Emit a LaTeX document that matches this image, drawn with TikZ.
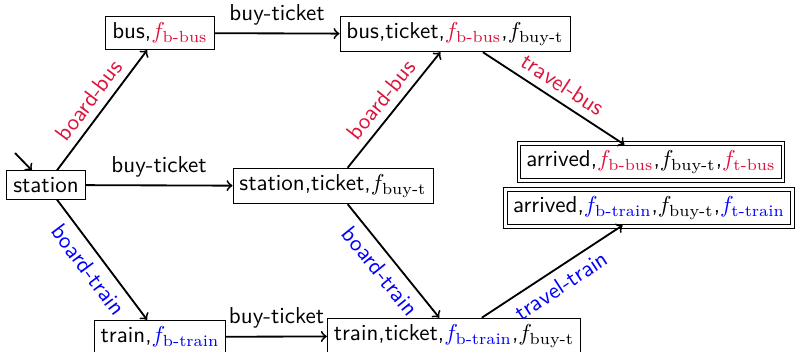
\documentclass[tikz,border=0pt]{standalone}
\usepackage{amsmath}
\definecolor{busred}{RGB}{220,20,60}
\definecolor{trainblue}{RGB}{0,0,255}
\newcommand{\fsub}[1]{f_{\text{\rmfamily #1}}}
\begin{document}
\begin{tikzpicture}[x=0.4347pt,y=-0.4347pt, font=\sffamily,
  state/.style={draw, inner sep=2.8pt},
  accept/.style={draw, inner sep=2.4pt},
  outerbox/.style={draw},
  tr/.style={->, thick},
  lab/.style={midway}]
\useasboundingbox (0,0) rectangle (797,352);
\node[state] (station) at (46,185) {station};
\node[state] (bus) at (160,33) {bus,$\color{busred}\fsub{b-bus}$};
\node[state] (busT) at (455,34) {bus,ticket,$\color{busred}\fsub{b-bus}$,$\fsub{buy-t}$};
\node[state] (stT) at (333,186) {station,ticket,$\fsub{buy-t}$};
\node[state] (train) at (160,337) {train,$\color{trainblue}\fsub{b-train}$};
\node[state] (trT) at (454,336) {train,ticket,$\color{trainblue}\fsub{b-train}$,$\fsub{buy-t}$};
\node[accept] (arrB) at (651,162) {arrived,$\color{busred}\fsub{b-bus}$,$\fsub{buy-t}$,$\color{busred}\fsub{t-bus}$};
\node[accept] (arrT) at (649,208) {arrived,$\color{trainblue}\fsub{b-train}$,$\fsub{buy-t}$,$\color{trainblue}\fsub{t-train}$};
\draw[outerbox] ([shift={(-1.4pt,1.4pt)}]arrB.north west) rectangle ([shift={(1.4pt,-1.4pt)}]arrB.south east);
\draw[outerbox] ([shift={(-1.4pt,1.4pt)}]arrT.north west) rectangle ([shift={(1.4pt,-1.4pt)}]arrT.south east);
\coordinate (init) at (15,153);
\draw[tr] (init) -- (station);
\draw[tr] (station) -- node[lab, above, sloped, busred] {board-bus} (bus);
\draw[tr] (station) -- node[lab, above] {buy-ticket} (stT);
\draw[tr] (station) -- node[lab, below, sloped, trainblue] {board-train} (train);
\draw[tr] (bus) -- node[lab, above] {buy-ticket} (busT);
\draw[tr] (stT) -- node[lab, above, sloped, busred] {board-bus} (busT);
\draw[tr] (stT) -- node[lab, below, sloped, trainblue] {board-train} (trT);
\draw[tr] (train) -- node[lab, above] {buy-ticket} (trT);
\draw[tr] (busT) -- node[lab, above, sloped, busred] {travel-bus} (arrB);
\draw[tr] (trT) -- node[lab, below, sloped, trainblue] {travel-train} (arrT);
\end{tikzpicture}
\end{document}
